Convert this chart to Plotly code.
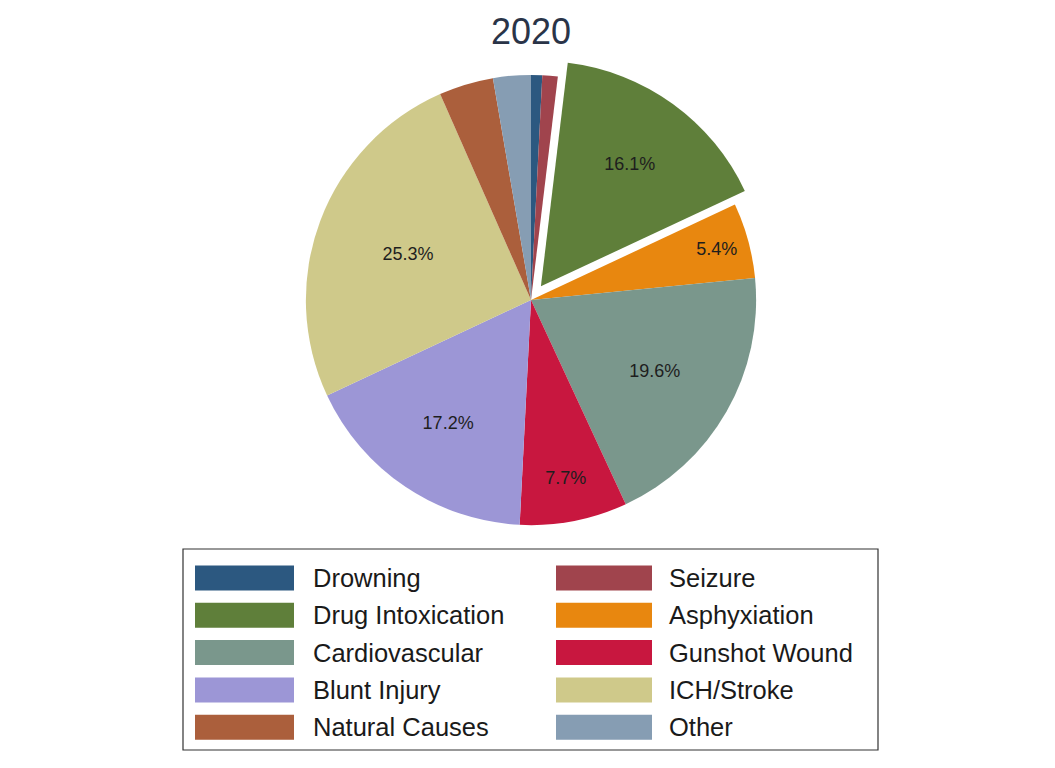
import plotly.graph_objects as go

categories = ["Drowning", "Seizure", "Drug Intoxication", "Asphyxiation", "Cardiovascular",
              "Gunshot Wound", "Blunt Injury", "ICH/Stroke", "Natural Causes", "Other"]
values = [0.8, 1.1, 16.1, 5.4, 19.6, 7.7, 17.2, 25.3, 3.9, 2.7]
labels_shown = ["", "", "16.1%", "5.4%", "19.6%", "7.7%", "17.2%", "25.3%", "", ""]
colors = ["#2c5880", "#a0444d", "#5f7f3a", "#e8870f", "#7a978c",
          "#c8173f", "#9c96d6", "#cfc98a", "#ab5f3c", "#869db3"]
pulls = [0, 0, 0.075, 0, 0, 0, 0, 0, 0, 0]

W, H = 1055, 768
fig = go.Figure()
fig.add_trace(go.Pie(
    labels=categories, values=values, text=labels_shown,
    texttemplate="%{text}", textinfo="text", textposition="inside",
    insidetextorientation="horizontal",
    textfont=dict(family="Liberation Sans, Arial", size=18, color="#1e1e1e"),
    marker=dict(colors=colors, line=dict(width=0)),
    pull=pulls, sort=False, direction="clockwise", rotation=0,
    domain=dict(x=[(531 - 242) / W, (531 + 242) / W], y=[(468 - 242) / H, (468 + 242) / H]),
    showlegend=False, hoverinfo="label+percent",
))

shapes = []
annotations = []
# legend frame
shapes.append(dict(type="rect", xref="paper", yref="paper",
                   x0=183 / W, x1=878 / W, y0=(H - 750) / H, y1=(H - 549) / H,
                   line=dict(color="#333333", width=1.2), fillcolor="rgba(0,0,0,0)"))
col_sw = [(195, 294, 311), (556, 652, 667)]
for i, (name, col) in enumerate(zip(categories, colors)):
    r, c = divmod(i, 2)
    yc = 578 + r * 37.3
    x0, x1, xt = col_sw[c]
    shapes.append(dict(type="rect", xref="paper", yref="paper",
                       x0=x0 / W, x1=x1 / W, y0=(H - yc - 12.5) / H, y1=(H - yc + 12.5) / H,
                       line=dict(width=0), fillcolor=col))
    annotations.append(dict(x=xt / W, y=(H - yc) / H, xref="paper", yref="paper",
                            text=name, showarrow=False, xanchor="left", yanchor="middle",
                            font=dict(family="Liberation Sans, Arial", size=25.5, color="#1a1a1a")))
annotations.append(dict(x=531 / W, y=(H - 31) / H, xref="paper", yref="paper", text="2020",
                        showarrow=False, xanchor="center", yanchor="middle",
                        font=dict(family="Liberation Sans, Arial", size=36, color="#2a3448")))

fig.update_layout(width=W, height=H, margin=dict(l=0, r=0, t=0, b=0),
                  paper_bgcolor="white", plot_bgcolor="white",
                  shapes=shapes, annotations=annotations)
fig.write_html("out.html")
